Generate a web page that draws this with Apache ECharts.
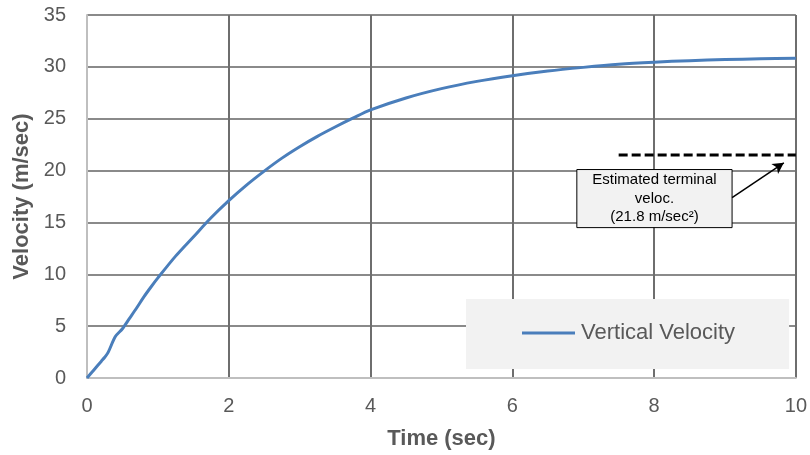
<!DOCTYPE html>
<html>
<head>
<meta charset="utf-8">
<script src="https://cdn.jsdelivr.net/npm/echarts@6/dist/echarts.min.js"></script>
<style>
html,body{margin:0;padding:0;background:#fff;}
#chart{width:810px;height:455px;}
</style>
</head>
<body>
<div id="chart"></div>
<script>
// time (sec)
var timeSec = [0, 0.1, 0.2, 0.25, 0.3, 0.4, 0.5, 0.6, 0.7, 0.8, 0.9, 1.0, 1.25, 1.5, 1.75, 2.0, 2.25, 2.5, 2.75, 3.0, 3.25, 3.5, 3.75, 4.0, 4.5, 5.0, 5.5, 6.0, 6.5, 7.0, 7.5, 8.0, 8.5, 9.0, 9.5, 10.0];
// vertical velocity (m/sec)
var velocity = [0, 0.8, 1.6, 2.0, 2.5, 4.0, 4.75, 5.75, 6.75, 7.8, 8.75, 9.65, 11.75, 13.6, 15.45, 17.1, 18.6, 19.95, 21.2, 22.3, 23.3, 24.2, 25.05, 25.85, 27.0, 27.9, 28.6, 29.15, 29.6, 29.95, 30.25, 30.45, 30.6, 30.7, 30.78, 30.83];
// estimated terminal velocity line (dashed)
var terminalX = [7.5, 10];
var terminalV = [21.5, 21.5];
// annotation box corners [time, velocity]
var boxTopLeft = [6.91, 20.1];
var boxBottomRight = [9.10, 14.5];
var boxText = 'Estimated terminal\nveloc.\n(21.8 m/sec\u00B2)';
// arrow from box to dashed line
var arrowFrom = [9.10, 17.4];
var arrowTo = [9.83, 20.75];

var xTicks = {min: 0, max: 10, interval: 2};
var yTicks = {min: 0, max: 35, interval: 5};

var seriesName = 'Vertical Velocity';

var chart = echarts.init(document.getElementById('chart'), null, {renderer: 'canvas'});
var font = 'Liberation Sans, Arial, sans-serif';

chart.setOption({
  animation: false,
  backgroundColor: '#ffffff',
  textStyle: {fontFamily: font},
  grid: {left: 87, right: 13, top: 15, bottom: 76, containLabel: false},
  legend: {
    data: [{name: seriesName, icon: 'rect'}],
    left: 466, top: 299,
    backgroundColor: '#f2f2f2',
    padding: [23, 54, 25, 56],
    itemWidth: 53, itemHeight: 3, itemGap: 10,
    textStyle: {fontSize: 22, color: '#595959', fontFamily: font, padding: [0, 0, 0, 1]}
  },
  xAxis: {
    type: 'value',
    min: xTicks.min, max: xTicks.max, interval: xTicks.interval,
    name: 'Time (sec)', nameLocation: 'middle', nameGap: 50,
    nameTextStyle: {fontSize: 22, fontWeight: 'bold', color: '#595959', fontFamily: font},
    axisLine: {show: true, lineStyle: {color: '#bfbfbf', width: 2}},
    axisTick: {show: false},
    axisLabel: {fontSize: 20, color: '#595959', margin: 18, fontFamily: font},
    splitLine: {show: true, showMinLine: false, lineStyle: {color: '#6e6e6e', width: 2}}
  },
  yAxis: {
    type: 'value',
    min: yTicks.min, max: yTicks.max, interval: yTicks.interval,
    name: 'Velocity (m/sec)', nameLocation: 'middle', nameGap: 51,
    nameTextStyle: {fontSize: 22, fontWeight: 'bold', color: '#595959', fontFamily: font},
    axisLine: {show: true, lineStyle: {color: '#bfbfbf', width: 2}},
    axisTick: {show: false},
    axisLabel: {fontSize: 20, color: '#595959', margin: 21, fontFamily: font},
    splitLine: {show: true, showMinLine: false, lineStyle: {color: '#8a8a8a', width: 2}}
  },
  series: [
    {
      name: seriesName,
      type: 'line',
      data: timeSec.map(function (t, i) { return [t, velocity[i]]; }),
      showSymbol: false,
      smooth: 0.3,
      lineStyle: {color: '#4a7ebb', width: 3},
      itemStyle: {color: '#4a7ebb'},
      z: 3
    },
    {
      name: 'Terminal',
      type: 'line',
      data: terminalX.map(function (t, i) { return [t, terminalV[i]]; }),
      showSymbol: false,
      lineStyle: {color: '#000000', width: 3, type: [9, 4]},
      z: 4,
      markArea: {
        silent: true,
        itemStyle: {color: '#f2f2f2', borderColor: '#000000', borderWidth: 1},
        label: {
          show: true, position: 'inside', color: '#000000',
          fontSize: 15, lineHeight: 18.5, fontFamily: font, align: 'center'
        },
        data: [[{coord: boxTopLeft, name: boxText}, {coord: boxBottomRight}]]
      },
      markLine: {
        silent: true,
        symbol: ['none', 'arrow'],
        symbolSize: [9, 11],
        lineStyle: {color: '#000000', width: 1.5, type: 'solid'},
        label: {show: false},
        data: [[{coord: arrowFrom}, {coord: arrowTo}]]
      }
    }
  ]
});
</script>
</body>
</html>
